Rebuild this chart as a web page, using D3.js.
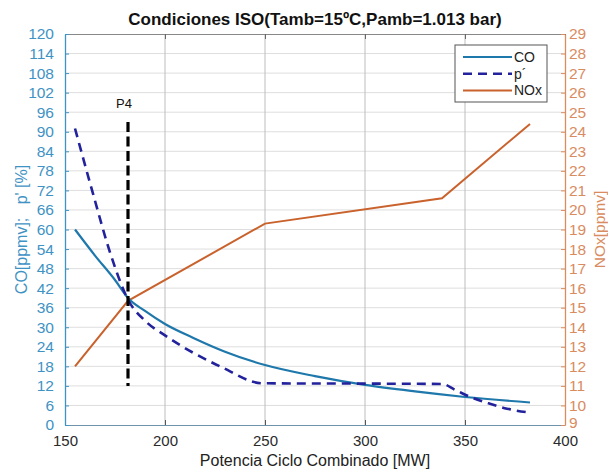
<!DOCTYPE html>
<html>
<head>
<meta charset="utf-8">
<script src="https://cdn.jsdelivr.net/npm/d3@7"></script>
<style>
  body { margin: 0; background: #fff; }
  svg { font-family: "Liberation Sans", Arial, sans-serif; }
</style>
</head>
<body>
<svg width="608" height="472"></svg>
<script>
// values
const coData = [
  [155, 60], [165, 52], [175, 44.5], [181.5, 39], [190, 35], [200, 31],
  [215, 26.5], [230, 22.5], [250, 18.4], [275, 15], [300, 12.3],
  [325, 10.3], [350, 8.6], [382.5, 6.9]
];
const pData = [
  [155, 91], [164, 71], [172.5, 53], [181.5, 38.5], [190, 32], [200, 27.5],
  [227.5, 18], [249, 12.8], [300, 12.7], [338.5, 12.6], [345, 10.8],
  [353, 8.5], [362.5, 6.5], [371, 5.0], [382.5, 3.8]
];
const noxData = [
  [155, 12.0], [181.5, 15.35], [250, 19.3], [338.5, 20.6], [382.5, 24.4]
];
const p4 = { x: 181.5, y0: 12, y1: 93, label: 'P4' };
const xTicks = [150, 200, 250, 300, 350, 400];
const leftTicks = d3.range(0, 121, 6);
const rightTicks = d3.range(9, 30, 1);
const legendItems = ['CO', 'p´', 'NOx'];

const svg = d3.select('svg');
const margin = { left: 65, right: 43, top: 34, bottom: 47 };
const width = 608 - margin.left - margin.right;
const height = 472 - margin.top - margin.bottom;

const blueAxis = '#3f93c4';
const orangeAxis = '#d98c5f';
const coColor = '#1f78ab';
const pColor = '#22229c';
const noxColor = '#c9622c';
const tickFont = 15.5;

const x = d3.scaleLinear().domain([150, 400]).range([0, width]);
const yL = d3.scaleLinear().domain([0, 120]).range([height, 0]);
const yR = d3.scaleLinear().domain([9, 29]).range([height, 0]);

const g = svg.append('g').attr('transform', `translate(${margin.left},${margin.top})`);

// grid
g.append('g').selectAll('line').data(leftTicks.slice(1, -1))
  .enter().append('line')
  .attr('x1', 0).attr('x2', width)
  .attr('y1', d => yL(d)).attr('y2', d => yL(d))
  .attr('stroke', '#dedede').attr('stroke-width', 1);
g.append('g').selectAll('line').data(xTicks.slice(1, -1))
  .enter().append('line')
  .attr('x1', d => x(d)).attr('x2', d => x(d))
  .attr('y1', 0).attr('y2', height)
  .attr('stroke', '#bdbdbd').attr('stroke-width', 1);

// axes
const xAxis = g.append('g').attr('transform', `translate(0,${height})`)
  .call(d3.axisBottom(x).tickValues(xTicks).tickSizeInner(-5).tickSizeOuter(0).tickPadding(10));
xAxis.select('.domain').attr('stroke', '#6f93aa');
xAxis.selectAll('.tick line').attr('stroke', '#555');
xAxis.selectAll('text').attr('fill', '#2a2a2a').attr('font-size', 15);

const xTop = g.append('g')
  .call(d3.axisTop(x).tickValues(xTicks).tickSizeInner(-5).tickSizeOuter(0).tickFormat(''));
xTop.select('.domain').attr('stroke', '#888');
xTop.selectAll('.tick line').attr('stroke', '#666');

const leftAxis = g.append('g')
  .call(d3.axisLeft(yL).tickValues(leftTicks).tickSizeInner(-4).tickSizeOuter(0).tickPadding(11));
leftAxis.select('.domain').attr('stroke', blueAxis).attr('stroke-width', 1.3);
leftAxis.selectAll('.tick line').attr('stroke', blueAxis);
leftAxis.selectAll('text').attr('fill', blueAxis).attr('font-size', tickFont);

const rightAxis = g.append('g').attr('transform', `translate(${width},0)`)
  .call(d3.axisRight(yR).tickValues(rightTicks).tickSizeInner(-4).tickSizeOuter(0).tickPadding(4));
rightAxis.select('.domain').attr('stroke', orangeAxis).attr('stroke-width', 1.3);
rightAxis.selectAll('.tick line').attr('stroke', orangeAxis);
rightAxis.selectAll('text').attr('fill', orangeAxis).attr('font-size', tickFont)
  .attr('dy', d => d === 9 ? '0.15em' : '0.32em');

// series
const lineL = d3.line().x(d => x(d[0])).y(d => yL(d[1])).curve(d3.curveMonotoneX);
const lineR = d3.line().x(d => x(d[0])).y(d => yR(d[1]));

g.append('path').datum(noxData)
  .attr('d', lineR).attr('fill', 'none')
  .attr('stroke', noxColor).attr('stroke-width', 2);
g.append('path').datum(coData)
  .attr('d', lineL).attr('fill', 'none')
  .attr('stroke', coColor).attr('stroke-width', 2.2);
g.append('path').datum(pData)
  .attr('d', lineL).attr('fill', 'none')
  .attr('stroke', pColor).attr('stroke-width', 2.6)
  .attr('stroke-dasharray', '9,6');

// P4 marker
g.append('line')
  .attr('x1', x(p4.x)).attr('x2', x(p4.x))
  .attr('y1', yL(p4.y1)).attr('y2', yL(p4.y0))
  .attr('stroke', '#000').attr('stroke-width', 3.2)
  .attr('stroke-dasharray', '10,4.5');
g.append('text')
  .attr('x', x(p4.x) - 4).attr('y', yL(p4.y1) - 14)
  .attr('text-anchor', 'middle').attr('font-size', 13).attr('fill', '#111')
  .text(p4.label);

// legend
const legend = g.append('g').attr('transform', `translate(${455 - margin.left},${45 - margin.top})`);
legend.append('rect')
  .attr('width', 92).attr('height', 57)
  .attr('fill', '#fff').attr('stroke', '#555').attr('stroke-width', 1);
const legendStyles = [
  { color: coColor, dash: null, w: 2.2 },
  { color: pColor, dash: '9,6', w: 2.6 },
  { color: noxColor, dash: null, w: 2 }
];
legendItems.forEach((name, i) => {
  const yy = 12 + i * 16.7;
  legend.append('line')
    .attr('x1', 8).attr('x2', 57).attr('y1', yy).attr('y2', yy)
    .attr('stroke', legendStyles[i].color).attr('stroke-width', legendStyles[i].w)
    .attr('stroke-dasharray', legendStyles[i].dash);
  legend.append('text')
    .attr('x', 59).attr('y', yy + 5)
    .attr('font-size', 14).attr('fill', '#222')
    .text(name);
});

// titles
svg.append('text')
  .attr('x', 315).attr('y', 25)
  .attr('text-anchor', 'middle').attr('font-size', 17).attr('font-weight', 'bold')
  .attr('fill', '#111')
  .text('Condiciones ISO(Tamb=15ºC,Pamb=1.013 bar)');
svg.append('text')
  .attr('x', 315).attr('y', 466)
  .attr('text-anchor', 'middle').attr('font-size', 16).attr('fill', '#222')
  .text('Potencia Ciclo Combinado [MW]');
svg.append('text')
  .attr('transform', `translate(27,${margin.top + height / 2}) rotate(-90)`)
  .attr('text-anchor', 'middle').attr('font-size', 16).attr('fill', blueAxis)
  .attr('xml:space', 'preserve')
  .text("CO[ppmv];   p' [%]");
svg.append('text')
  .attr('transform', `translate(605,${margin.top + height / 2}) rotate(-90)`)
  .attr('text-anchor', 'middle').attr('font-size', 15.5).attr('fill', orangeAxis)
  .text('NOx[ppmv]');
</script>
</body>
</html>
